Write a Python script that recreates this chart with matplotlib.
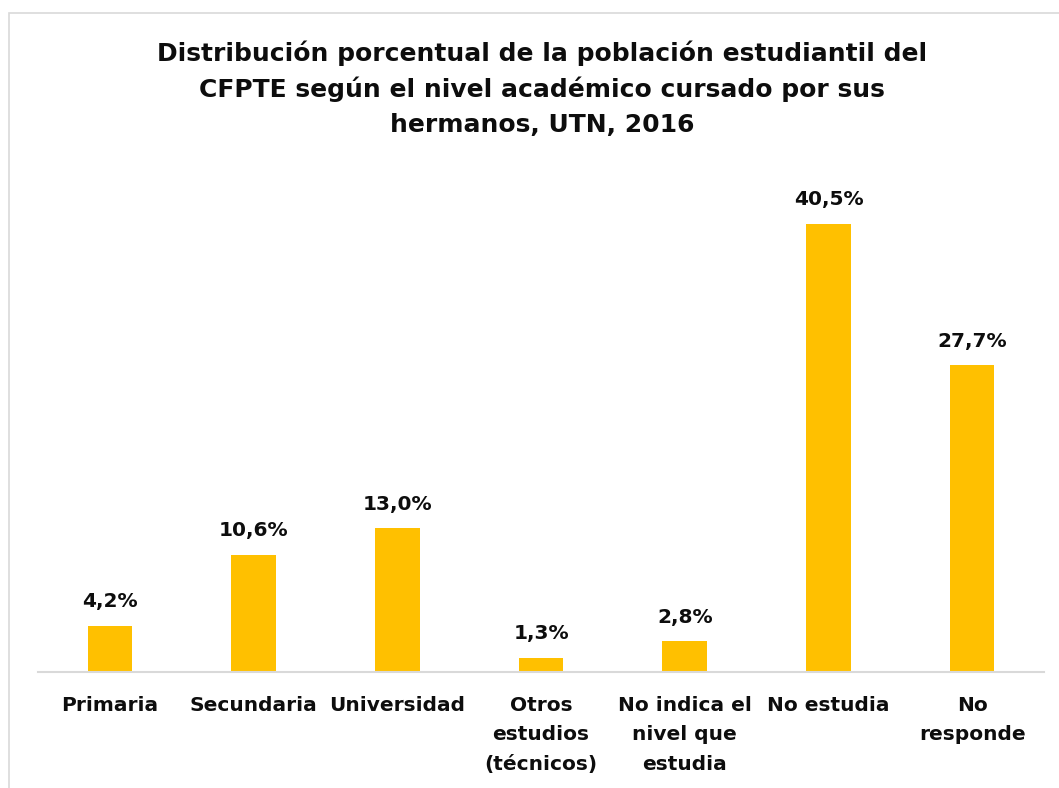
import matplotlib
matplotlib.use("Agg")
import matplotlib.pyplot as plt
from matplotlib.patches import Rectangle

categories = ["Primaria", "Secundaria", "Universidad", "Otros\nestudios\n(técnicos)",
              "No indica el\nnivel que\nestudia", "No estudia", "No\nresponde"]
values = [4.2, 10.6, 13.0, 1.3, 2.8, 40.5, 27.7]
value_labels = ["4,2%", "10,6%", "13,0%", "1,3%", "2,8%", "40,5%", "27,7%"]
title = ("Distribución porcentual de la población estudiantil del\n"
         "CFPTE según el nivel académico cursado por sus\n"
         "hermanos, UTN, 2016")

plt.rcParams['font.family'] = ['DejaVu Sans']
fig = plt.figure(figsize=(10.59, 7.88), dpi=100)
ax = fig.add_axes([0.0359, 0.1472, 0.95, 0.632])

x = range(len(categories))
ax.bar(x, values, width=0.31, color="#FFC000", zorder=2)
for xi, v, lab in zip(x, values, value_labels):
    ax.text(xi, v + 1.3, lab, ha="center", va="bottom", fontsize=14.5,
            fontweight="bold", color="#0d0d0d")

ax.set_xlim(-0.5, len(categories) - 0.5)
ax.set_ylim(0, 45)
ax.set_xticks(list(x))
ax.set_xticklabels(categories, fontsize=14.5, fontweight="bold", color="#0d0d0d",
                   linespacing=1.7)
ax.tick_params(axis="x", length=0, pad=17)
ax.set_yticks([])
for s in ["top", "right", "left"]:
    ax.spines[s].set_visible(False)
ax.spines["bottom"].set_color("#d9d9d9")
ax.spines["bottom"].set_linewidth(1.5)

fig.text(0.512, 0.949, title, ha="center", va="top", fontsize=18, fontweight="bold",
         color="#0d0d0d", linespacing=1.55)

fig.patches.append(Rectangle((9 / 1059, -0.1), 1.2, (788 - 13) / 788 + 0.1,
                             transform=fig.transFigure, fill=False,
                             edgecolor="#d9d9d9", linewidth=1.2))

fig.savefig("out.png", dpi=100)
